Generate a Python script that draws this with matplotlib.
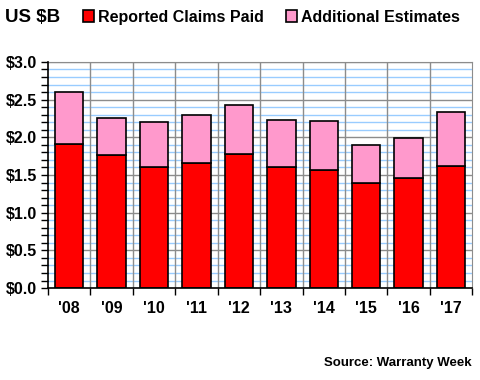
import numpy as np
import matplotlib
matplotlib.use("Agg")
import matplotlib.pyplot as plt
from matplotlib.ticker import MultipleLocator, FixedLocator, FormatStrFormatter

plt.rcParams['font.family'] = ['Liberation Sans', 'DejaVu Sans']
plt.rcParams['font.weight'] = 'bold'

years = ["'08", "'09", "'10", "'11", "'12", "'13", "'14", "'15", "'16", "'17"]
claims_paid = [1.91, 1.77, 1.60, 1.66, 1.78, 1.60, 1.57, 1.40, 1.46, 1.62]
totals = [2.60, 2.26, 2.20, 2.30, 2.43, 2.23, 2.22, 1.90, 1.99, 2.34]
additional = [t - c for t, c in zip(totals, claims_paid)]

fig = plt.figure(figsize=(4.8, 3.8), dpi=100)
ax = fig.add_axes([0.1, 0.242, 0.884, 0.595])

x = np.arange(len(years))
ax.bar(x, claims_paid, width=0.67, color='#ff0000', edgecolor='black', linewidth=1.2,
       label='Reported Claims Paid', zorder=3)
ax.bar(x, additional, bottom=claims_paid, width=0.67, color='#ff99cc', edgecolor='black',
       linewidth=1.2, label='Additional Estimates', zorder=3)

ax.set_xlim(-0.5, len(years) - 0.5)
ax.set_ylim(0, 3.0)

# horizontal grid: blue every 0.1, gray every 0.5
for v in np.arange(0.1, 3.01, 0.1):
    if abs(v / 0.5 - round(v / 0.5)) < 1e-6:
        ax.axhline(v, color='#8c8c8c', linewidth=1.0, zorder=1)
    else:
        ax.axhline(v, color='#99ccff', linewidth=1.0, zorder=1)
# vertical grid at category boundaries
for b in np.arange(0.5, len(years) - 0.5, 1.0):
    ax.axvline(b, color='#8c8c8c', linewidth=1.0, zorder=1)

ax.yaxis.set_major_locator(MultipleLocator(0.5))
ax.yaxis.set_minor_locator(MultipleLocator(0.1))
ax.yaxis.set_major_formatter(FormatStrFormatter('$%.1f'))
ax.tick_params(axis='y', which='major', direction='out', length=5, width=1, pad=3,
               labelsize=11.5)
ax.tick_params(axis='y', which='minor', direction='out', length=5, width=1)

ax.xaxis.set_major_locator(FixedLocator(x))
ax.set_xticklabels(years, fontsize=11.5, fontweight='bold')
ax.tick_params(axis='x', which='major', length=0, pad=9)
ax.xaxis.set_minor_locator(FixedLocator(np.arange(-0.5, len(years), 1.0)))
ax.tick_params(axis='x', which='minor', direction='out', length=5, width=1)

for s in ['top', 'right']:
    ax.spines[s].set_color('#8c8c8c')
for s in ['left', 'bottom']:
    ax.spines[s].set_color('black')
    ax.spines[s].set_linewidth(1.2)
    ax.spines[s].set_zorder(4)

fig.text(0.01, 0.955, 'US $B', fontsize=13.5, fontweight='bold', va='center', ha='left')
fig.legend(loc='center left', bbox_to_anchor=(0.172, 0.955), ncol=2, frameon=False,
           fontsize=11.5, handlelength=0.7, handleheight=0.7, handletextpad=0.25,
           columnspacing=1.4, borderpad=0, borderaxespad=0)

fig.text(0.983, 0.045, 'Source: Warranty Week', fontsize=9.5, fontweight='bold',
         ha='right', va='center')

fig.savefig('out.png', dpi=100)
